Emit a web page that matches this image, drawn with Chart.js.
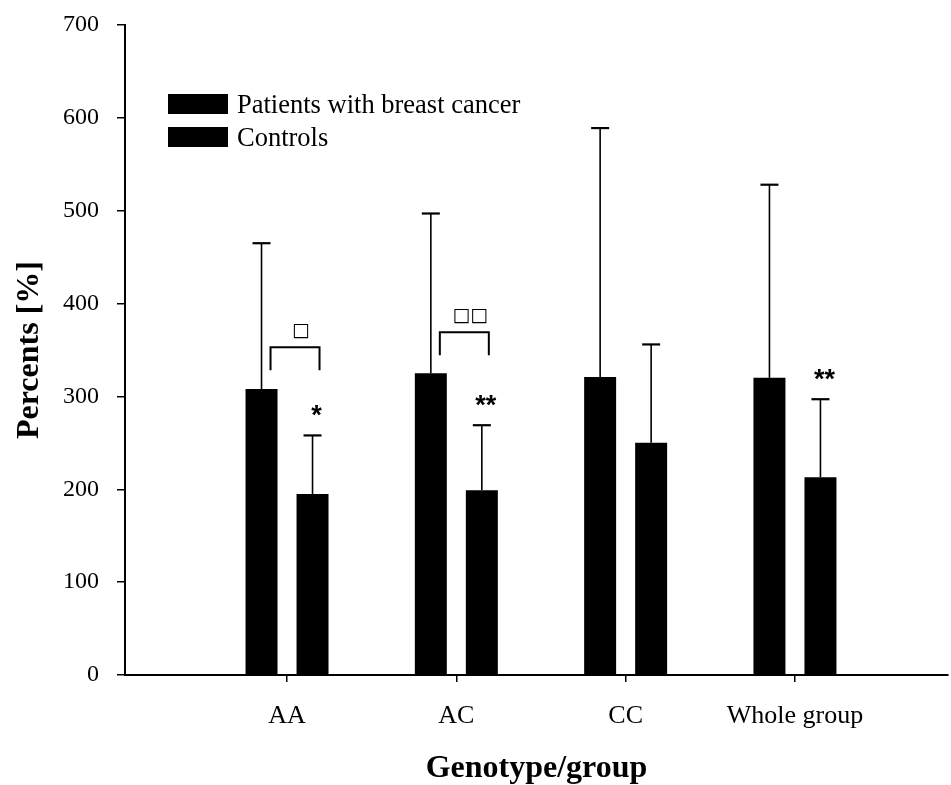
<!DOCTYPE html>
<html>
<head>
<meta charset="utf-8">
<script src="https://cdn.jsdelivr.net/npm/chart.js@4.4.1/dist/chart.umd.min.js"></script>
<style>
  html, body { margin: 0; padding: 0; background: #fff; }
  #wrap { width: 951px; height: 785px; }
</style>
</head>
<body>
<div id="wrap"><canvas id="c" width="951" height="785"></canvas></div>
<script>
// Genotype groups on the x axis
const categories = ['AA', 'AC', 'CC', 'Whole group'];
const seriesNames = ['Patients with breast cancer', 'Controls'];

// Mean percentages and their standard deviations
const patientsMean = [308, 325, 321, 320];
const patientsSD   = [157, 172, 268, 208];
const controlsMean = [195, 199, 250, 213];
const controlsSD   = [63, 70, 106, 84];

// Significance marks: vs controls (asterisks) and between groups (bracket symbols)
const controlStars  = ['*', '**', '', '**'];
const bracketMarks  = ['\u25A1', '\u25A1\u25A1', '', ''];
const bracketLevels = [353, 369, null, null];

const yTicks = [0, 100, 200, 300, 400, 500, 600, 700];

const SERIF = "'Liberation Serif', 'Times New Roman', serif";

const errorBars = {
  id: 'errorBars',
  afterDatasetsDraw(chart) {
    const ctx = chart.ctx;
    const y = chart.scales.y;
    const sds = [patientsSD, controlsSD];
    const means = [patientsMean, controlsMean];
    ctx.save();
    ctx.strokeStyle = '#000';
    chart.data.datasets.forEach((ds, d) => {
      const meta = chart.getDatasetMeta(d);
      meta.data.forEach((bar, i) => {
        const top = y.getPixelForValue(means[d][i] + sds[d][i]);
        ctx.lineWidth = 1.6;
        ctx.beginPath();
        ctx.moveTo(bar.x, bar.y);
        ctx.lineTo(bar.x, top);
        ctx.stroke();
        ctx.lineWidth = 2.2;
        ctx.beginPath();
        ctx.moveTo(bar.x - 9, top);
        ctx.lineTo(bar.x + 9, top);
        ctx.stroke();
      });
    });
    ctx.restore();
  }
};

const annotations = {
  id: 'annotations',
  afterDatasetsDraw(chart) {
    const ctx = chart.ctx;
    const y = chart.scales.y;
    const pMeta = chart.getDatasetMeta(0);
    const cMeta = chart.getDatasetMeta(1);
    ctx.save();
    ctx.fillStyle = '#000';
    ctx.strokeStyle = '#000';
    // asterisks above control error bars
    ctx.font = "bold 27px 'Liberation Sans', Arial, sans-serif";
    ctx.textAlign = 'center';
    ctx.textBaseline = 'alphabetic';
    controlStars.forEach((s, i) => {
      if (!s) return;
      const bar = cMeta.data[i];
      const top = y.getPixelForValue(controlsMean[i] + controlsSD[i]);
      ctx.fillText(s, bar.x + 4, top - 11);
    });
    // brackets between patient and control bars
    bracketMarks.forEach((m, i) => {
      if (!m) return;
      const x1 = pMeta.data[i].x + 9;
      const x2 = cMeta.data[i].x + 7;
      const yl = y.getPixelForValue(bracketLevels[i]);
      ctx.lineWidth = 2;
      ctx.beginPath();
      ctx.moveTo(x1, yl + 23);
      ctx.lineTo(x1, yl);
      ctx.lineTo(x2, yl);
      ctx.lineTo(x2, yl + 23);
      ctx.stroke();
      ctx.font = "19px 'DejaVu Sans', sans-serif";
      ctx.textBaseline = 'alphabetic';
      ctx.fillText(m, (x1 + x2) / 2 + 6, yl - 11);
    });
    // legend
    ctx.textAlign = 'left';
    ctx.textBaseline = 'alphabetic';
    ctx.font = '26.5px ' + SERIF;
    chart.data.datasets.forEach((ds, d) => {
      const by = 94 + d * 33;
      ctx.fillStyle = ds.backgroundColor;
      ctx.fillRect(168, by, 60, 20);
      ctx.fillStyle = '#000';
      ctx.fillText(ds.label, 237, by + 19);
    });
    ctx.restore();
  }
};

new Chart(document.getElementById('c'), {
  type: 'bar',
  data: {
    datasets: [
      {
        label: seriesNames[0],
        data: patientsMean.map((v, i) => ({ x: i, y: v })),
        backgroundColor: '#000'
      },
      {
        label: seriesNames[1],
        data: controlsMean.map((v, i) => ({ x: i, y: v })),
        backgroundColor: '#000'
      }
    ]
  },
  options: {
    responsive: false,
    animation: false,
    categoryPercentage: 0.6025,
    barPercentage: 0.627,
    layout: { padding: { left: 0, right: 3, top: 25, bottom: 0 } },
    plugins: {
      legend: { display: false },
      tooltip: { enabled: false }
    },
    scales: {
      x: {
        type: 'linear',
        offset: false,
        min: -0.957,
        max: 3.904,
        afterBuildTicks: (s) => { s.ticks = categories.map((_, i) => ({ value: i })); },
        afterFit: (s) => { s.height = 110; },
        ticks: {
          callback: (v) => categories[v] ?? '',
          color: '#000',
          font: { family: SERIF, size: 26 },
          padding: 19,
          maxRotation: 0,
          autoSkip: false
        },
        grid: { display: true, offset: false, drawOnChartArea: false, drawTicks: true, tickLength: 7, color: '#000', lineWidth: 1.5 },
        border: { display: true, color: '#000', width: 2 },
        title: {
          display: true,
          text: 'Genotype/group',
          color: '#000',
          font: { family: SERIF, size: 32, weight: 'bold', lineHeight: 1 },
          padding: { top: 0, bottom: 0 }
        }
      },
      y: {
        min: 0,
        max: 700,
        afterBuildTicks: (s) => { s.ticks = yTicks.map(v => ({ value: v })); },
        afterFit: (s) => { s.width = 125; s.paddingTop = 0; s.paddingBottom = 0; },
        ticks: {
          color: '#000',
          font: { family: SERIF, size: 24 },
          padding: 18
        },
        grid: { display: true, drawOnChartArea: false, drawTicks: true, tickLength: 8, color: '#000', lineWidth: 1.5 },
        border: { display: true, color: '#000', width: 2 },
        title: {
          display: true,
          text: 'Percents [%]',
          color: '#000',
          font: { family: SERIF, size: 32, weight: 'bold', lineHeight: 1 },
          padding: { top: 14, bottom: 0 }
        }
      }
    }
  },
  plugins: [errorBars, annotations]
});
</script>
</body>
</html>
